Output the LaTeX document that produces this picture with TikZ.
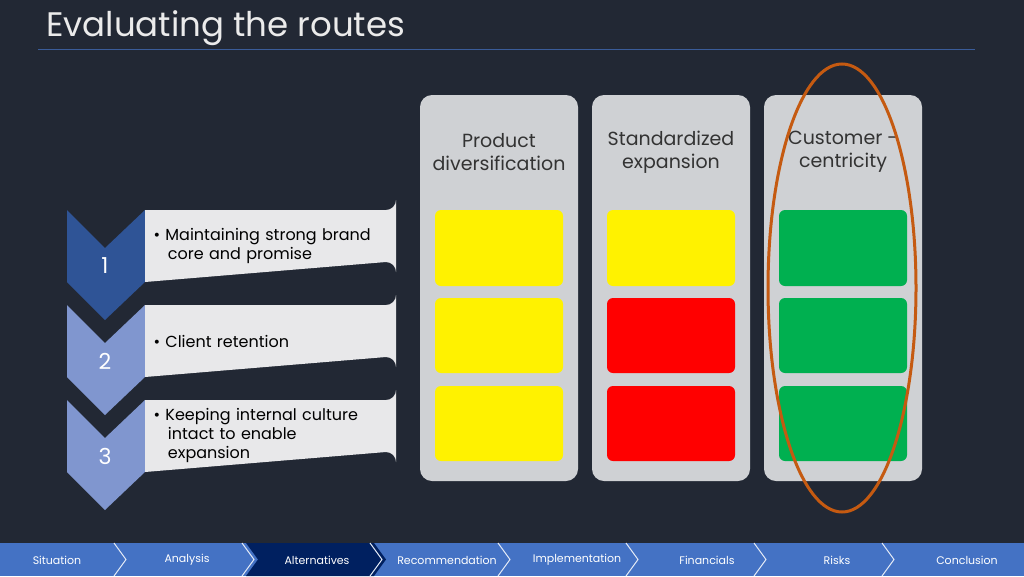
\documentclass[tikz,border=0pt]{standalone}
\usepackage{fontspec}
\setmainfont{Poppins}
\usepackage{tikz}
\usetikzlibrary{positioning}
\definecolor{slidebg}{HTML}{222834}
\definecolor{darkchev}{HTML}{2F5496}
\definecolor{lightchev}{HTML}{8096CF}
\definecolor{itembox}{HTML}{E8E8EA}
\definecolor{colbox}{HTML}{CFD1D4}
\definecolor{navblue}{HTML}{4472C4}
\definecolor{navdark}{HTML}{002060}
\definecolor{ringcol}{HTML}{C55A11}
\definecolor{goodcol}{HTML}{00B050}
\tikzset{
  itemtext/.style={anchor=west, text width=225pt, align=left, font=\fontsize{16}{19}\selectfont, text=black},
  numtext/.style={text=white, font=\fontsize{22}{24}\selectfont},
  headtext/.style={align=center, font=\fontsize{19}{23}\selectfont, text=black!80},
  navtext/.style={text=white, font=\fontsize{11}{13}\selectfont},
}
\begin{document}
\begin{tikzpicture}[x=1pt,y=-1pt]
\def\colw{158}
\def\cellw{128}
\fill[slidebg] (0,0) rectangle (1024,576);
\useasboundingbox (0,0) rectangle (1024,576);
% title
\node[anchor=base west, text=white!92!black, font=\fontsize{34}{38}\selectfont, inner sep=0] (title) at (46,36) {Evaluating the routes};
\draw[navblue!70!slidebg, line width=0.8pt] (38,49) -- (975,49);

% left chevrons and items
\foreach \y/\c/\n in {210/darkchev/1, 305/lightchev/2, 400/lightchev/3}{
  \fill[\c] (67,\y) -- (105,\y+38) -- (145,\y) -- (145,\y+72) -- (105,\y+110) -- (67,\y+72) -- cycle;
  \fill[itembox] (145,\y) -- (386,\y) arc[start angle=90, end angle=0, radius=10] -- (396,\y+62) arc[start angle=0, end angle=-90, radius=10] -- (145,\y+72) -- cycle;
  \node[numtext] (num\n) at (105,\y+56) {\n};
}
\node[itemtext] (item1) at (150,246) {\textbullet\ Maintaining strong brand\\\hspace{0.9em}core and promise};
\node[itemtext] (item2) at (150,341) {\textbullet\ Client retention};
\node[itemtext] (item3) at (150,435) {\textbullet\ Keeping internal culture\\\hspace{0.9em}intact to enable\\\hspace{0.9em}expansion};

% route columns
\foreach \x/\t/\a/\b/\cc in {420/{Product\\diversification}/yellow/yellow/yellow,
                            592/{Standardized\\expansion}/yellow/red/red,
                            764/{Customer -\\centricity}/goodcol/goodcol/goodcol}{
  \fill[colbox, rounded corners=12pt] (\x,95) rectangle (\x+\colw,481);
  \node[headtext] at (\x+\colw/2,152) {\t};
  \fill[\a, rounded corners=6pt] (\x+15,210) rectangle (\x+15+\cellw,286);
  \fill[\b, rounded corners=6pt] (\x+15,298) rectangle (\x+15+\cellw,373);
  \fill[\cc, rounded corners=6pt] (\x+15,386) rectangle (\x+15+\cellw,461);
}
\draw[ringcol, line width=3pt] (842,288) ellipse[x radius=74, y radius=224];

% navigation bar
\fill[navblue] (0,543) rectangle (1024,576);
\fill[navdark] (246,543) -- (374,543) -- (386,559.5) -- (374,576) -- (246,576) -- (258,559.5) -- cycle;
\foreach \i in {1,...,7}{
  \draw[white!85!navblue, line width=1pt] (\i*128-14,543) -- (\i*128-2,559.5) -- (\i*128-14,576);
}
\foreach \i/\t in {0/Situation,1/Analysis,2/Alternatives,3/Recommendation,4/Implementation,5/Financials,6/Risks,7/Conclusion}{
  \node[navtext] (nav\i) at (\i*130+57,560) {\t};
}
\end{tikzpicture}
\end{document}
